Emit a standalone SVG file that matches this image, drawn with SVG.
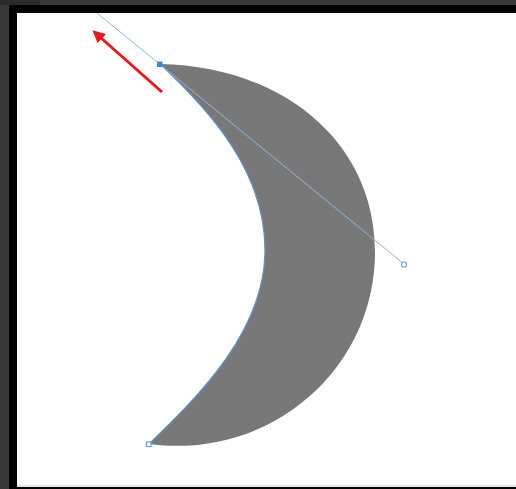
<svg xmlns="http://www.w3.org/2000/svg" width="516" height="489" viewBox="0 0 516 489">
  <defs>
    <marker id="redHead" viewBox="0 0 10 10" refX="2" refY="5" markerWidth="4.2" markerHeight="4.2" orient="auto" markerUnits="strokeWidth">
      <path d="M0,0 L10,5 L0,10 z" fill="#e8191c"/>
    </marker>
  </defs>
  <style>
    .handle{stroke:#8fb6e3;stroke-width:1;fill:none}
    .pt{fill:#fff;stroke:#6b9fdc;stroke-width:1.2}
  </style>
  <rect x="0" y="0" width="516" height="489" fill="#3a3838"/>
  <rect x="0" y="0" width="40" height="5" fill="#2c2b2b"/>
  <rect x="9" y="5" width="507" height="484" fill="#000"/>
  <rect x="17" y="13" width="499" height="474" fill="#fff"/>
  <rect x="17" y="485" width="499" height="1.5" fill="#dcdcdc"/>

  <!-- crescent -->
  <path d="M160,64 C280,66 375,140 375,252 C375,370 270,460 149,444 C200,395 265,330 265,250 C265,175 215,115 160,64 Z" fill="#787878"/>
  <path d="M149,444 C200,395 265,330 265,250 C265,175 215,115 160,64" fill="none" stroke="#5f8fcc" stroke-width="1.2"/>

  <!-- handle line -->
  <line class="handle" x1="97" y1="13" x2="404" y2="264"/>
  <rect x="157" y="61.5" width="5.5" height="5.5" fill="#3b86e0"/>
  <circle class="pt" cx="404" cy="264.5" r="2.5"/>
  <rect class="pt" x="146.5" y="442" width="4.5" height="4.5"/>

  <!-- red arrow -->
  <line x1="162" y1="92" x2="100" y2="37" stroke="#e8191c" stroke-width="3" marker-end="url(#redHead)"/>
</svg>
